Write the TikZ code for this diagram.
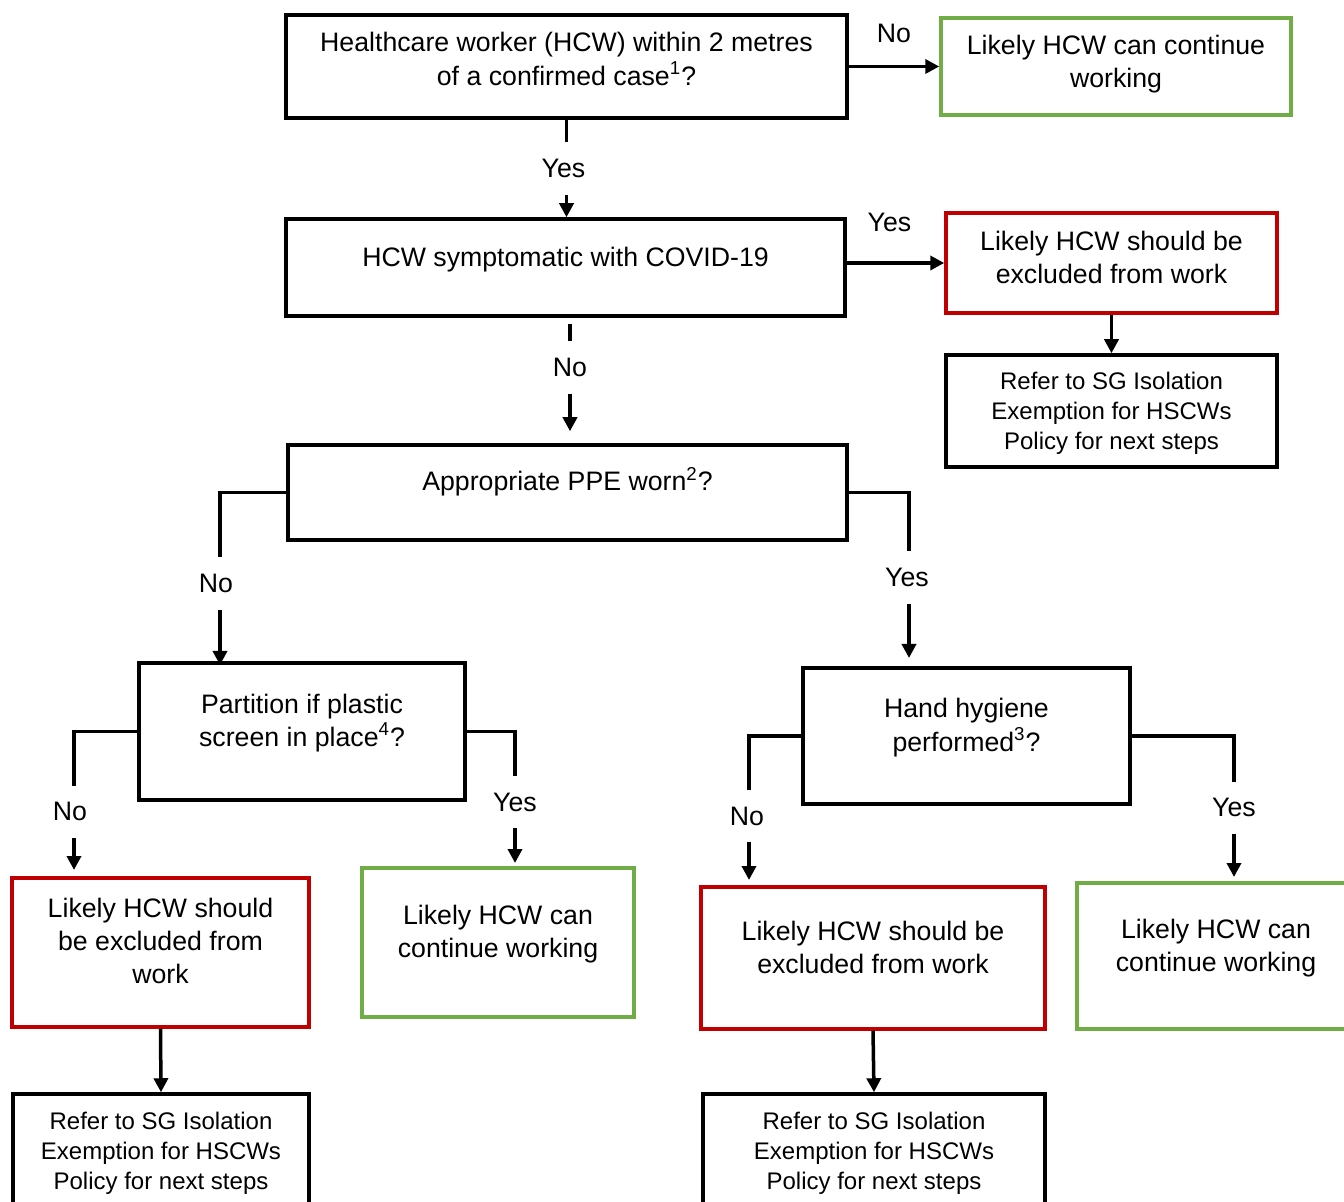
\documentclass[tikz,border=0pt]{standalone}
\usepackage{fontspec}
\setmainfont{Liberation Sans}
\usepackage{tikz}
\usetikzlibrary{arrows.meta}
\definecolor{exred}{RGB}{192,0,0}
\definecolor{okgreen}{RGB}{112,173,71}
\newcommand{\mainsize}{\fontsize{13.35}{16.6}\selectfont}
\newcommand{\refsize}{\fontsize{12}{15}\selectfont}
\newcommand{\uptext}[2]{\raisebox{#1}[\height][\depth]{\begin{tabular}{@{}c@{}}#2\end{tabular}}}
\tikzstyle{question} = [draw, rectangle, line width=1.75pt, inner sep=2pt, font=\mainsize]
\tikzstyle{excluded} = [question, draw=exred]
\tikzstyle{working} = [question, draw=okgreen]
\tikzstyle{refer} = [question, font=\refsize]
\tikzstyle{answer} = [inner sep=1pt, font=\mainsize]
\tikzstyle{gapanswer} = [answer, fill=white, inner ysep=8.5pt]

\begin{document}
\begin{tikzpicture}[x=0.5pt, y=-0.5pt, line width=1.75pt, >={Triangle[length=7pt,width=7pt]}]
  \useasboundingbox (0,0) rectangle (1344,1202);
  \node [question, minimum width=280.5pt, minimum height=51.5pt] (contact) at (566.5,66.5) {\uptext{2.25pt}{Healthcare worker (HCW) within 2 metres\\of a confirmed case\textsuperscript{1}?}};
  \node [working, minimum width=175pt, minimum height=48.5pt] (cont1) at (1116,66.5) {\uptext{1pt}{Likely HCW can continue\\working}};
  \node [question, minimum width=279.5pt, minimum height=48.5pt] (symptom) at (565.5,267.5) {\uptext{3.75pt}{HCW symptomatic with COVID-19}};
  \node [excluded, minimum width=165.5pt, minimum height=50pt] (excl1) at (1111.5,263) {\uptext{1.25pt}{Likely HCW should be\\excluded from work}};
  \node [refer, minimum width=165.5pt, minimum height=56pt] (ref1) at (1111.5,411) {\uptext{-1.5pt}{Refer to SG Isolation\\Exemption for HSCWs\\Policy for next steps}};
  \node [question, minimum width=279.5pt, minimum height=47.5pt] (ppe) at (567.5,492.5) {\uptext{4.25pt}{Appropriate PPE worn\textsuperscript{2}?}};
  \node [question, minimum width=163pt, minimum height=68.5pt] (screen) at (302,731.5) {\uptext{4.25pt}{Partition if plastic\\screen in place\textsuperscript{4}?}};
  \node [question, minimum width=163.5pt, minimum height=68pt] (hands) at (966.5,736) {\uptext{4pt}{Hand hygiene\\performed\textsuperscript{3}?}};
  \node [excluded, minimum width=148.5pt, minimum height=74.5pt] (excl2) at (160.5,952.5) {\uptext{4.25pt}{Likely HCW should\\be excluded from\\work}};
  \node [working, minimum width=136pt, minimum height=74.5pt] (cont2) at (498,942.5) {\uptext{4pt}{Likely HCW can\\continue working}};
  \node [excluded, minimum width=172pt, minimum height=71pt] (excl3) at (873,958) {\uptext{3.75pt}{Likely HCW should be\\excluded from work}};
  \node [working, minimum width=139pt, minimum height=73pt] (cont3) at (1216,956) {\uptext{3.75pt}{Likely HCW can\\continue working}};
  \node [refer, minimum width=148pt, minimum height=57pt] (ref2) at (161,1151) {\uptext{-1.25pt}{Refer to SG Isolation\\Exemption for HSCWs\\Policy for next steps}};
  \node [refer, minimum width=171pt, minimum height=57pt] (ref3) at (874,1151) {\uptext{-1.25pt}{Refer to SG Isolation\\Exemption for HSCWs\\Policy for next steps}};
  \coordinate (screenin) at (220,665);
  \coordinate (handsin) at (909,658);
  \coordinate (excl2in) at (74,870);
  \coordinate (cont2in) at (515,863);
  \coordinate (excl3in) at (749,880);
  \coordinate (cont3in) at (1234,877);
  \draw [->] (contact.east) -- node [answer, yshift=16.5pt] (no1) {No} (cont1.west);
  \draw [->] (contact.south) -- node [gapanswer, xshift=-1.5pt] (yes1) {Yes} (contact.south |- symptom.north);
  \draw [->] (symptom.east |- excl1.west) -- node [answer, yshift=20.5pt, xshift=-3pt] (yes2) {Yes} (excl1.west);
  \draw [->] (excl1.south) -- (ref1.north);
  \draw [->] ([xshift=2.25pt, yshift=-3pt]symptom.south) -- node [gapanswer, pos=0.405] (no2) {No} ([xshift=1.25pt, yshift=6pt]ppe.north);
  \draw [->] (ppe.west) -| node [gapanswer, pos=0.763, xshift=-2pt] (no3) {No} (screenin);
  \draw [->] (ppe.east) -| node [gapanswer, pos=0.756, xshift=-1pt] (yes3) {Yes} (handsin);
  \draw [->] (screen.west) -| node [gapanswer, pos=0.79, xshift=-2pt] (no4) {No} (excl2in);
  \draw [->] (screen.east) -| node [gapanswer, pos=0.768] (yes4) {Yes} (cont2in);
  \draw [->] (hands.west) -| node [gapanswer, pos=0.778, xshift=-1pt] (no5) {No} (excl3in);
  \draw [->] (hands.east) -| node [gapanswer, pos=0.755] (yes5) {Yes} (cont3in);
  \draw [->] (excl2.south) -- (ref2.north);
  \draw [->] (excl3.south) -- (ref3.north);
\end{tikzpicture}
\end{document}
